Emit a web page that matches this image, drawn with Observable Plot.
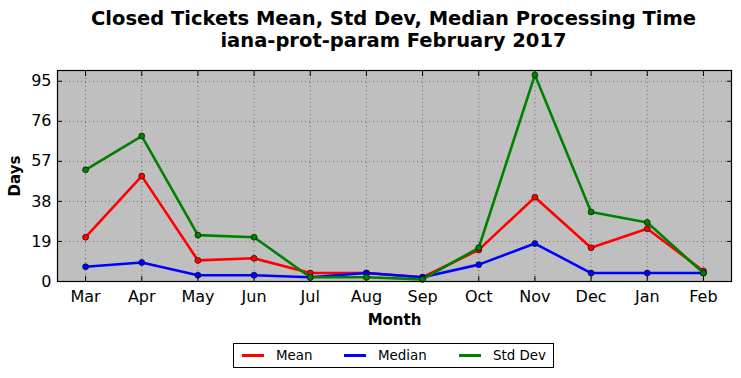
<!DOCTYPE html>
<html>
<head>
<meta charset="utf-8">
<script src="https://cdn.jsdelivr.net/npm/d3@7"></script>
<script src="https://cdn.jsdelivr.net/npm/@observablehq/plot@0.6"></script>
<style>
  body { margin: 0; background: #fff; font-family: "DejaVu Sans", sans-serif; }
  #wrap { position: relative; width: 741px; height: 378px; overflow: hidden; }
  #title { position: absolute; left: 0; top: 8px; width: 787px; text-align: center; font-weight: bold; font-size: 19.5px; line-height: 22px; color: #000; }
  #chart { position: absolute; left: 0; top: 0; }
  #legend { position: absolute; left: 233px; top: 343px; width: 319px; height: 23px; border: 1px solid #000; background: #fff; font-size: 13.4px; }
  .item { position: absolute; top: 0; height: 23px; line-height: 23px; white-space: nowrap; }
  .swatch { display: inline-block; width: 22px; height: 0; border-top: 3px solid; vertical-align: middle; margin-right: 12px; position: relative; top: -1px; }
</style>
</head>
<body>
<div id="wrap">
  <div id="title">Closed Tickets Mean, Std Dev, Median Processing Time<br>iana-prot-param February 2017</div>
  <div id="chart"></div>
  <div id="legend"></div>
</div>
<script>
const months = ["Mar","Apr","May","Jun","Jul","Aug","Sep","Oct","Nov","Dec","Jan","Feb"];
const meanVals = [21, 50, 10, 11, 4, 4, 2, 15, 40, 16, 25, 5];
const medianVals = [7, 9, 3, 3, 2, 4, 2, 8, 18, 4, 4, 4];
const stdVals = [53, 69, 22, 21, 2, 2, 1, 16, 98, 33, 28, 4];
const yTicks = [0, 19, 38, 57, 76, 95];
const seriesNames = ["Mean", "Median", "Std Dev"];
const seriesColors = ["#ff0000", "#0000ff", "#008000"];

const seriesVals = [meanVals, medianVals, stdVals];
const rows = seriesNames.flatMap((s, si) => months.map((m, i) => ({series: s, i, value: seriesVals[si][i]})));
const xIdx = months.map((m, i) => i);

const lineMarks = seriesNames.flatMap((s, si) => {
  const d = rows.filter(r => r.series === s);
  return [
    Plot.line(d, {x: "i", y: "value", stroke: seriesColors[si], strokeWidth: 2.6}),
    Plot.dot(d, {x: "i", y: "value", r: 3, fill: seriesColors[si], stroke: "#000", strokeWidth: 0.6})
  ];
});

const chart = Plot.plot({
  width: 741,
  height: 340,
  marginTop: 70,
  marginBottom: 59,
  marginLeft: 57,
  marginRight: 10,
  style: {fontFamily: "DejaVu Sans, sans-serif", background: "transparent", overflow: "visible"},
  x: {type: "linear", domain: [-0.5, 11.5]},
  y: {domain: [0, 100.1]},
  marks: [
    Plot.frame({fill: "#bfbfbf"}),
    Plot.gridX(xIdx, {stroke: "#555", strokeOpacity: 1, strokeWidth: 0.8, strokeDasharray: "1,3"}),
    Plot.gridY(yTicks, {stroke: "#555", strokeOpacity: 1, strokeWidth: 0.8, strokeDasharray: "1,3"}),
    Plot.axisX(xIdx, {anchor: "bottom", tickSize: 0, tickPadding: 9, fontSize: 16, tickFormat: i => months[i], label: "Month", labelAnchor: "center", labelArrow: "none", labelOffset: 43}),
    Plot.axisX(xIdx, {anchor: "bottom", tickSize: -5, tickFormat: () => "", label: null}),
    Plot.axisX(xIdx, {anchor: "top", tickSize: -5, tickFormat: () => "", label: null}),
    Plot.axisY(yTicks, {anchor: "left", tickSize: 0, tickPadding: 6, fontSize: 16, label: "Days", labelAnchor: "center", labelArrow: "none", labelOffset: 48}),
    Plot.axisY(yTicks, {anchor: "left", tickSize: -5, tickFormat: () => "", label: null}),
    Plot.axisY(yTicks, {anchor: "right", tickSize: -5, tickFormat: () => "", label: null}),
    ...lineMarks,
    Plot.frame({stroke: "#000", strokeWidth: 1.2})
  ]
});
d3.select(chart).selectAll("g[aria-label='x-axis label'] text, g[aria-label='y-axis label'] text")
  .style("font-weight", "bold").style("font-size", "15px");
document.getElementById("chart").appendChild(chart);

const lefts = [8, 110, 225];
const legend = document.getElementById("legend");
seriesNames.forEach((s, si) => {
  const it = document.createElement("div");
  it.className = "item";
  it.style.left = lefts[si] + "px";
  const sw = document.createElement("span");
  sw.className = "swatch";
  sw.style.borderColor = seriesColors[si];
  it.appendChild(sw);
  it.appendChild(document.createTextNode(s));
  legend.appendChild(it);
});
</script>
</body>
</html>
